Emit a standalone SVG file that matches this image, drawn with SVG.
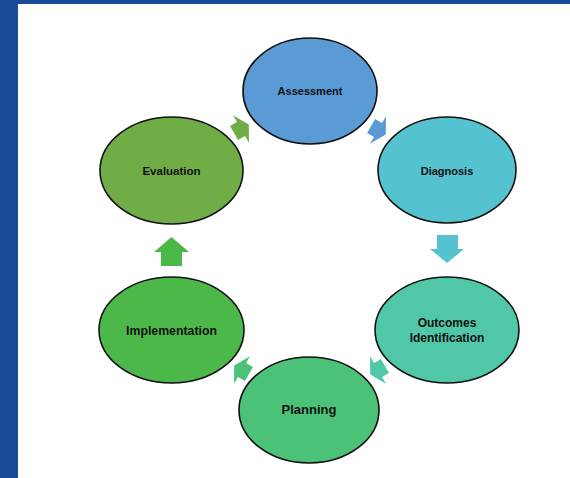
<svg xmlns="http://www.w3.org/2000/svg" width="570" height="478" viewBox="0 0 570 478">
<style>
.node ellipse{stroke:#111;stroke-width:1.6}
.node text{font-family:"Liberation Sans",Arial,sans-serif;font-weight:bold;fill:#111;text-anchor:middle}
</style>
<defs>
<polygon id="darr" points="-8,-8 0,-8 0,-16 9,0 0,16 0,8 -8,8"/>
</defs>
<rect x="0" y="0" width="570" height="478" fill="#1a4b9b"/>
<rect x="18" y="4" width="552" height="474" fill="#ffffff"/>
<g id="connectors">
<use href="#darr" transform="translate(378,130) rotate(30)" fill="#5b9bd5"/>
<polygon points="437,235 458,235 458,249 464,249 447,263 430,249 437,249" fill="#55c2cf"/>
<use href="#darr" transform="translate(378,370) rotate(150)" fill="#50c8a8"/>
<use href="#darr" transform="translate(242,370) rotate(-150)" fill="#4bc277"/>
<polygon points="161,266 182,266 182,252 189,252 171.5,237 154,252 161,252" fill="#4cb84a"/>
<use href="#darr" transform="translate(241,129) rotate(-30)" fill="#70ad47"/>
</g>
<g id="assessment" class="node">
<ellipse cx="310" cy="91" rx="67" ry="53" fill="#5b9bd5"/>
<text x="310" y="94.5" font-size="11">Assessment</text>
</g>
<g id="diagnosis" class="node">
<ellipse cx="447" cy="170" rx="69" ry="53" fill="#55c2cf"/>
<text x="447" y="175" font-size="11">Diagnosis</text>
</g>
<g id="outcomes" class="node">
<ellipse cx="447" cy="330" rx="72" ry="53" fill="#50c8a8"/>
<text x="447" y="326.5" font-size="12">Outcomes</text>
<text x="447" y="342" font-size="12">Identification</text>
</g>
<g id="planning" class="node">
<ellipse cx="309" cy="410" rx="70" ry="53" fill="#4bc277"/>
<text x="309" y="414" font-size="13">Planning</text>
</g>
<g id="implementation" class="node">
<ellipse cx="171.5" cy="330" rx="72.5" ry="53" fill="#4cb84a"/>
<text x="171.5" y="334.5" font-size="12.3">Implementation</text>
</g>
<g id="evaluation" class="node">
<ellipse cx="171.5" cy="170.5" rx="71.5" ry="53.5" fill="#70ad47"/>
<text x="171.5" y="175" font-size="11.5">Evaluation</text>
</g>
</svg>
